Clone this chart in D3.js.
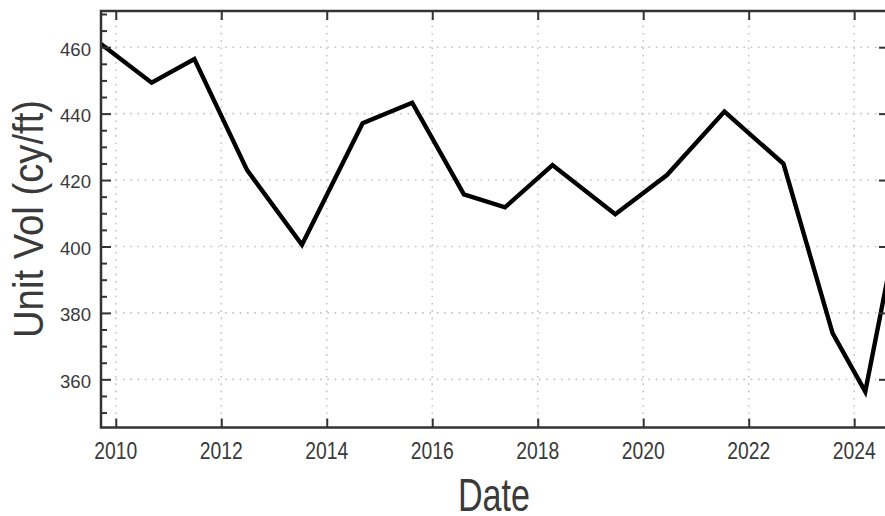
<!DOCTYPE html>
<html><head><meta charset="utf-8">
<script src="https://cdn.jsdelivr.net/npm/d3@7"></script>
<style>body{margin:0;background:#fff;}svg{display:block;}</style>
</head><body>
<svg id="chart" width="885" height="516"></svg>
<script>
// Data
const years = [2009.72, 2010.68, 2011.49, 2012.49, 2013.53, 2014.68, 2015.62, 2016.60, 2017.38, 2018.28, 2019.47, 2020.45, 2021.54, 2022.66, 2023.59, 2024.21, 2025.0];
const unitVol = [461.0, 449.3, 456.4, 423.0, 400.5, 437.1, 443.3, 415.7, 411.8, 424.5, 409.7, 421.5, 440.6, 424.9, 373.9, 356.3, 420.0];
const xTicks = [2010, 2012, 2014, 2016, 2018, 2020, 2022, 2024];
const yTicks = [360, 380, 400, 420, 440, 460];
const yMinorTicks = d3.range(350, 471, 5);
const xDomain = [2009.72, 2024.66];
const yDomain = [345.5, 470.9];
const xLabel = "Date";
const yLabel = "Unit Vol (cy/ft)";

const svg = d3.select("#chart");
const L = 101, R = 889, T = 11, B = 427.5;
const x = d3.scaleLinear().domain(xDomain).range([L, R]);
const y = d3.scaleLinear().domain(yDomain).range([B, T]);
const axisColor = "#333";
const textColor = "#3a3a3a";
const minorVals = yMinorTicks.filter(v => !yTicks.includes(v) && v > yDomain[0] && v < yDomain[1]);

svg.append("defs").append("clipPath").attr("id", "clip")
  .append("rect").attr("x", L).attr("y", T).attr("width", R - L).attr("height", B - T);

// grid
const grid = svg.append("g").attr("stroke", "#c4c4c4").attr("stroke-width", 1.6).attr("stroke-dasharray", "1.6,5.7");
grid.selectAll(".gx").data(xTicks).join("line")
  .attr("x1", d => x(d)).attr("x2", d => x(d)).attr("y1", T).attr("y2", B);
grid.selectAll(".gy").data(yTicks).join("line")
  .attr("x1", L).attr("x2", R).attr("y1", d => y(d)).attr("y2", d => y(d));

// line
svg.append("path")
  .datum(years.map((d, i) => [d, unitVol[i]]))
  .attr("clip-path", "url(#clip)")
  .attr("fill", "none").attr("stroke", "#000").attr("stroke-width", 4.4)
  .attr("stroke-linejoin", "miter")
  .attr("d", d3.line().x(d => x(d[0])).y(d => y(d[1])));

// axes with inward ticks
function styleAxis(g) {
  g.select(".domain").remove();
  g.selectAll(".tick line").attr("stroke", axisColor).attr("stroke-width", 2);
  g.selectAll(".tick text").remove();
}
svg.append("g").attr("transform", `translate(0,${B})`)
  .call(d3.axisBottom(x).tickValues(xTicks).tickSize(-9)).call(styleAxis);
svg.append("g").attr("transform", `translate(0,${T})`)
  .call(d3.axisTop(x).tickValues(xTicks).tickSize(-9)).call(styleAxis);
svg.append("g").attr("transform", `translate(${L},0)`)
  .call(d3.axisLeft(y).tickValues(minorVals).tickSize(-6)).call(styleAxis);
svg.append("g").attr("transform", `translate(${L},0)`)
  .call(d3.axisLeft(y).tickValues(yTicks).tickSize(-10)).call(styleAxis);
svg.append("g").attr("transform", `translate(${R},0)`)
  .call(d3.axisRight(y).tickValues(minorVals).tickSize(-4)).call(styleAxis);
svg.append("g").attr("transform", `translate(${R},0)`)
  .call(d3.axisRight(y).tickValues(yTicks).tickSize(-10)).call(styleAxis);

// frame
svg.append("rect").attr("x", L).attr("y", T).attr("width", R - L).attr("height", B - T)
  .attr("fill", "none").attr("stroke", axisColor).attr("stroke-width", 2.5);

// tick labels
svg.append("g").selectAll("text").data(xTicks).join("text")
  .attr("x", d => x(d)).attr("y", 459.3)
  .attr("text-anchor", "middle")
  .attr("font-family", "'Liberation Sans', Arial, sans-serif").attr("font-size", 24.5)
  .attr("textLength", 43).attr("lengthAdjust", "spacingAndGlyphs")
  .attr("fill", textColor).text(d => d);
svg.append("g").selectAll("text").data(yTicks).join("text")
  .attr("x", 91).attr("y", d => y(d) + 8.3)
  .attr("text-anchor", "end")
  .attr("font-family", "'Liberation Sans', Arial, sans-serif").attr("font-size", 19)
  .attr("textLength", 31).attr("lengthAdjust", "spacingAndGlyphs")
  .attr("fill", textColor).text(d => d);

// axis titles
svg.append("text").attr("x", 494).attr("y", 511).attr("text-anchor", "middle")
  .attr("font-family", "'Liberation Sans', Arial, sans-serif").attr("font-size", 47)
  .attr("textLength", 72).attr("lengthAdjust", "spacingAndGlyphs")
  .attr("fill", textColor).text(xLabel);
svg.append("text").attr("transform", "translate(43,219) rotate(-90)").attr("text-anchor", "middle")
  .attr("font-family", "'Liberation Sans', Arial, sans-serif").attr("font-size", 42)
  .attr("textLength", 238).attr("lengthAdjust", "spacingAndGlyphs")
  .attr("fill", textColor).text(yLabel);
</script>
</body></html>
